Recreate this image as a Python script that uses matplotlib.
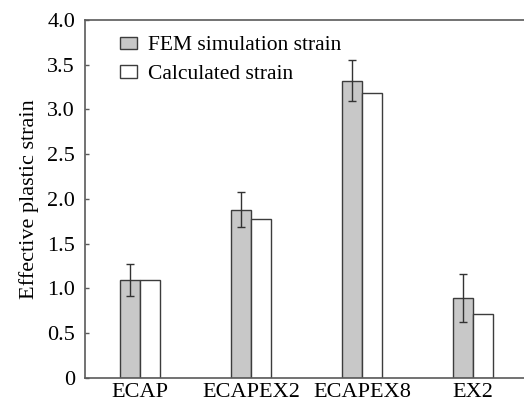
import numpy as np
import matplotlib
matplotlib.use("Agg")
import matplotlib.pyplot as plt
import matplotlib.ticker as mticker

plt.rcParams.update({
    "font.family": "serif",
    "font.serif": ["Liberation Serif", "DejaVu Serif"],
    "font.size": 16,
})

processes = ["ECAP", "ECAPEX2", "ECAPEX8", "EX2"]
fem_strain = [1.09, 1.88, 3.32, 0.89]
fem_err = [0.18, 0.20, 0.23, 0.27]
calc_strain = [1.09, 1.77, 3.18, 0.71]
yticks = [0, 0.5, 1.0, 1.5, 2.0, 2.5, 3.0, 3.5, 4.0]

EDGE = "#3c3c3c"
SPINE = "#5a5a5a"

fig = plt.figure(figsize=(5.24, 4.05), dpi=100)
ax = fig.add_axes([0.162, 0.067, 0.846, 0.884])

x = np.arange(len(processes))
width = 0.18
ax.bar(x - width / 2, fem_strain, width, color="#c8c8c8", edgecolor=EDGE,
       linewidth=1.0, label="FEM simulation strain", zorder=2)
ax.bar(x + width / 2, calc_strain, width, color="white", edgecolor=EDGE,
       linewidth=1.0, label="Calculated strain", zorder=2)
ax.errorbar(x - width / 2, fem_strain, yerr=fem_err, fmt="none",
            ecolor="#333333", elinewidth=1.0, capsize=3, capthick=1.0, zorder=3)

ax.set_xlim(-0.5, 3.5)
ax.set_ylim(0, 4.0)
ax.set_xticks(x)
ax.set_xticklabels(processes)
ax.set_yticks(yticks)
ax.yaxis.set_major_formatter(mticker.FuncFormatter(
    lambda v, p: "0" if v == 0 else f"{v:.1f}"))
ax.tick_params(axis="x", length=0, pad=4)
ax.tick_params(axis="y", direction="in", length=3, width=1, color=SPINE, pad=7)
ax.spines["right"].set_visible(False)
for s in ax.spines.values():
    s.set_color(SPINE)
    s.set_linewidth(1.2)
ax.set_ylabel("Effective plastic strain", labelpad=6)

ax.legend(loc="upper left", bbox_to_anchor=(0.05, 0.99), frameon=False,
          fontsize=15.5, handlelength=0.8, handleheight=0.5, handletextpad=0.5,
          labelspacing=0.45, borderaxespad=0.2)

fig.savefig("out.png", dpi=100)
